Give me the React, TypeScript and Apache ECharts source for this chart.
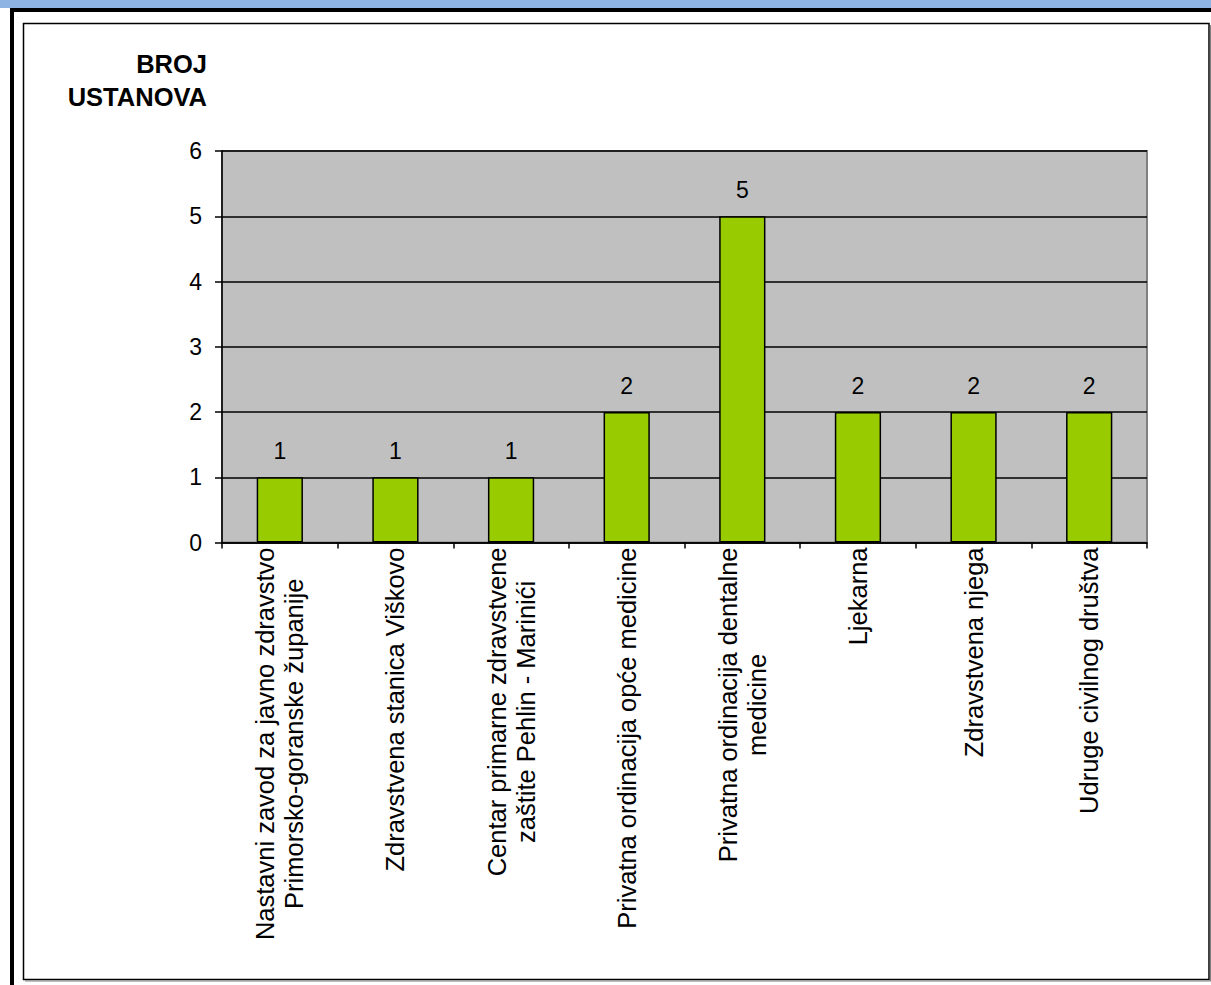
import React, { useEffect, useRef } from 'react';
import * as echarts from 'echarts';

const categories = [
  'Nastavni zavod za javno zdravstvo\nPrimorsko-goranske županije',
  'Zdravstvena stanica Viškovo',
  'Centar primarne zdravstvene\nzaštite Pehlin - Marinići',
  'Privatna ordinacija opće medicine',
  'Privatna ordinacija dentalne\nmedicine',
  'Ljekarna',
  'Zdravstvena njega',
  'Udruge civilnog društva',
];
const counts = [1, 1, 1, 2, 5, 2, 2, 2];
const yAxisTitle = 'BROJ\nUSTANOVA';
const yMin = 0;
const yMax = 6;
const yStep = 1;

const FONT = "'Liberation Sans', Arial, Helvetica, sans-serif";

export default function App() {
  const ref = useRef<HTMLDivElement>(null);
  useEffect(() => {
    const chart = echarts.init(ref.current!, null, { renderer: 'svg' });
    chart.setOption({
      animation: false,
      backgroundColor: '#ffffff',
      textStyle: { fontFamily: FONT },
      grid: {
        left: 222,
        top: 151,
        right: 64,
        bottom: 442.5,
        show: true,
        backgroundColor: '#C0C0C0',
        borderColor: '#808080',
        borderWidth: 2,
        containLabel: false,
      },
      xAxis: {
        type: 'category',
        data: categories,
        boundaryGap: true,
        axisLine: { show: true, lineStyle: { color: '#000', width: 1.5 } },
        axisTick: { show: true, length: 6, lineStyle: { color: '#000', width: 1.5 } },
        axisLabel: {
          rotate: 90,
          interval: 0,
          margin: 5,
          color: '#000',
          fontSize: 25.5,
          fontFamily: FONT,
          lineHeight: 29,
          formatter: (v: string) => v.split('\n').map((l) => `{c|${l}}`).join('\n'),
          rich: {
            c: { align: 'center', fontSize: 25.5, lineHeight: 29, fontFamily: FONT, color: '#000' },
          },
        },
        splitLine: { show: false },
      },
      yAxis: {
        type: 'value',
        min: yMin,
        max: yMax,
        interval: yStep,
        name: yAxisTitle,
        nameLocation: 'end',
        nameGap: 38,
        nameTextStyle: {
          fontSize: 25.5,
          fontWeight: 'bold',
          color: '#000',
          align: 'right',
          verticalAlign: 'bottom',
          lineHeight: 33,
          padding: [0, 15, 0, 0],
          fontFamily: FONT,
        },
        axisLine: { show: true, lineStyle: { color: '#000', width: 1.5 } },
        axisTick: { show: true, length: 7, lineStyle: { color: '#000', width: 1.5 } },
        axisLabel: { margin: 20, color: '#000', fontSize: 23, fontFamily: FONT },
        splitLine: { show: true, lineStyle: { color: '#000', width: 1.5 } },
      },
      series: [
        {
          type: 'bar',
          data: counts,
          barWidth: '40%',
          itemStyle: { color: '#99CC00', borderColor: '#000', borderWidth: 1.5 },
          label: {
            show: true,
            position: 'top',
            distance: 15,
            fontSize: 23,
            color: '#000',
            fontFamily: FONT,
          },
        },
      ],
      graphic: [
        { type: 'rect', shape: { x: 0, y: 0, width: 1211, height: 8 }, style: { fill: '#8EB4E3' } },
        { type: 'rect', shape: { x: 10, y: 8, width: 1201, height: 4 }, style: { fill: '#000' } },
        { type: 'rect', shape: { x: 10, y: 8, width: 4, height: 977 }, style: { fill: '#000' } },
        {
          type: 'rect',
          shape: { x: 23.5, y: 23.5, width: 1185.5, height: 956 },
          style: { fill: 'none', stroke: '#000', lineWidth: 1.5 },
        },
        {
          type: 'polyline',
          shape: { points: [[1210.5, 25], [1210.5, 981], [25, 981]] },
          style: { fill: 'none', stroke: '#808080', lineWidth: 1.2 },
        },
      ],
    });
    return () => chart.dispose();
  }, []);
  return <div ref={ref} style={{ position: 'fixed', left: 0, top: 0, width: 1211, height: 985 }} />;
}
